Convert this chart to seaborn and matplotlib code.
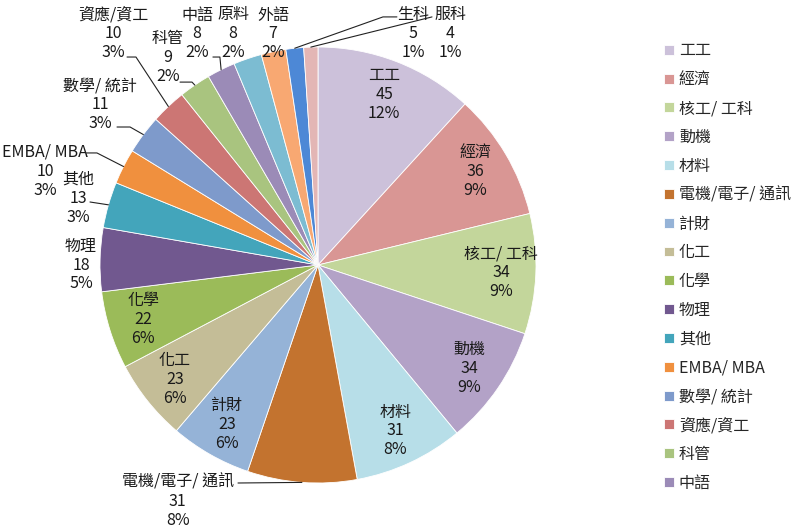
import numpy as np
import matplotlib
matplotlib.use('Agg')
import matplotlib.pyplot as plt
import seaborn as sns

sns.set_theme(style='white')
plt.rcParams['font.family'] = ['Noto Sans CJK TC', 'DejaVu Sans']

depts = ['工工', '經濟', '核工/ 工科', '動機', '材料', '電機/電子/ 通訊', '計財', '化工',
         '化學', '物理', '其他', 'EMBA/ MBA', '數學/ 統計', '資應/資工', '科管', '中語',
         '原料', '外語', '生科', '服科']
counts = [45, 36, 34, 34, 31, 31, 23, 23, 22, 18, 13, 10, 11, 10, 9, 8, 8, 7, 5, 4]
colors = ['#CCC1DA', '#D99694', '#C3D69B', '#B3A2C7', '#B7DEE8', '#C3732F', '#95B3D7',
          '#C4BD97', '#9BBB59', '#71588F', '#43A5BB', '#F0903E', '#7E9ACB', '#CC7674',
          '#A9C47F', '#9B8BB7', '#7CBCD2', '#F8A872', '#4D88D6', '#E3B6B5']

# labels that Excel pushed outside the pie: text centre and the leader's text end
# (units of pie radius)
outside = {
    '物理': ((-1.087, 0.0), None),
    '其他': ((-1.101, 0.307), [(-1.046, 0.289)]),
    'EMBA/ MBA': ((-1.252, 0.431), [(-1.062, 0.514), (-1.014, 0.514)]),
    '數學/ 統計': ((-1.0, 0.734), [(-0.922, 0.633), (-0.862, 0.633)]),
    '資應/資工': ((-0.940, 1.06), [(-0.876, 0.954), (-0.835, 0.954)]),
    '科管': ((-0.688, 0.95), [(-0.633, 0.839), (-0.578, 0.839)]),
    '中語': ((-0.555, 1.06), [(-0.482, 0.954), (-0.450, 0.954)]),
    '原料': ((-0.390, 1.06), None),
    '外語': ((-0.206, 1.06), None),
    '生科': ((0.436, 1.06), [(0.362, 1.138), (0.298, 1.138)]),
    '服科': ((0.606, 1.06), [(0.523, 1.138)]),
    '電機/電子/ 通訊': ((-0.644, -1.083), [(-0.367, -1.0)]),
}

total = sum(counts)
line_gap = 19 / 218  # one text line, in pie radii

fig = plt.figure(figsize=(7.97, 5.32), dpi=100)
ax = fig.add_axes([100 / 797, 49 / 532, 436 / 797, 436 / 532])
wedges, _ = ax.pie(counts, colors=colors, startangle=90, counterclock=False,
                   wedgeprops=dict(edgecolor='white', linewidth=0.6))
ax.set_xlim(-1, 1)
ax.set_ylim(-1, 1)
ax.axis('off')


def put_label(x, y, lines):
    for k, s in enumerate(lines):
        ax.text(x, y + (1 - k) * line_gap, s, ha='center', va='center',
                fontsize=11.5, color='#1a1a1a')


cum = np.cumsum(counts) - np.array(counts) / 2
for name, v, c in zip(depts, counts, cum):
    theta = np.deg2rad(c / total * 360)
    lines = [name, str(v), f'{round(v / total * 100):.0f}%']
    if name in outside:
        pos, leader = outside[name]
        put_label(pos[0], pos[1], lines)
        if leader:
            pts = leader + [(np.sin(theta), np.cos(theta))]
            xs, ys = zip(*pts)
            ax.plot(xs, ys, color='#222222', lw=0.8, clip_on=False)
    else:
        put_label(0.84 * np.sin(theta), 0.84 * np.cos(theta), lines)

# Excel's legend only had room for the first 16 entries
fig.legend(wedges[:16], depts[:16], loc='upper left', bbox_to_anchor=(658 / 797, 1 - 36 / 532),
           frameon=False, fontsize=11.5, handlelength=0.58, handleheight=0.58,
           handletextpad=0.33, labelspacing=0.74, borderaxespad=0)

fig.savefig('out.png', dpi=100)
